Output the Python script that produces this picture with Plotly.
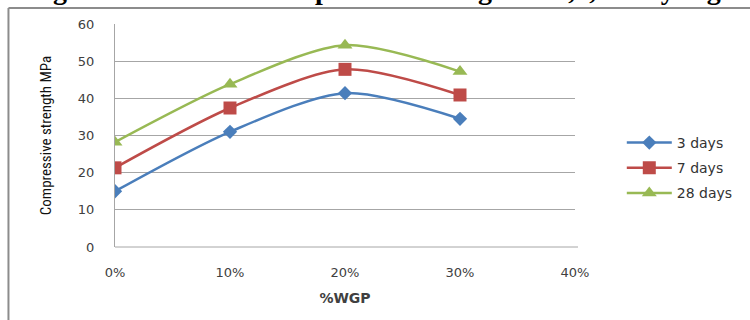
import plotly.graph_objects as go

wgp = [0.0, 0.1, 0.2, 0.3]
tick_vals = [0.0, 0.1, 0.2, 0.3, 0.4]
tick_text = ["0%", "10%", "20%", "30%", "40%"]
days3 = [15.0, 31.0, 41.4, 34.5]
days7 = [21.3, 37.4, 47.8, 40.9]
days28 = [28.2, 43.8, 54.3, 47.2]
series_names = ["3 days", "7 days", "28 days"]
title_text = "Fig.5.2 Variation of compressive strength at 3,7,28 days age"

colors = ["#4A7EBB", "#BE4B48", "#98B954"]
symbols = ["diamond", "square", "triangle-up"]
sizes = [11, 13, 13]

fig = go.Figure()
for name, vals, c, s, sz in zip(series_names, [days3, days7, days28], colors, symbols, sizes):
    fig.add_trace(go.Scatter(
        x=wgp, y=vals, name=name, mode="lines+markers", legendgroup=name,
        line=dict(color=c, width=2.5, shape="spline", smoothing=0.8),
        marker=dict(symbol=s, size=sz, color=c),
    ))

L, R, T, B = 115, 577, 24, 247
W, H = 750, 320
pw, ph = R - L, B - T

def px(x):
    return (x - L) / pw

def py(y):
    return (B - y) / ph

fig.update_layout(
    width=W, height=H,
    margin=dict(l=L, r=W - R, t=T, b=H - B),
    paper_bgcolor="white", plot_bgcolor="white",
    font=dict(family="DejaVu Sans", size=13, color="#404040"),
    showlegend=True,
    legend=dict(
        x=px(624), y=py(127), xanchor="left", yanchor="top",
        font=dict(size=14, color="#333333"),
        bgcolor="rgba(0,0,0,0)", tracegroupgap=4, itemwidth=45,
    ),
    xaxis=dict(
        range=[0, 0.4], tickvals=tick_vals, ticktext=tick_text,
        showgrid=False, zeroline=False, showline=False, automargin=False,
        ticks="", ticklabelstandoff=16, tickfont=dict(size=13, color="#404040"),
        title=dict(text="<b>%WGP</b>", font=dict(size=14, color="#404040"), standoff=14),
        fixedrange=True,
    ),
    yaxis=dict(
        range=[0, 60], dtick=10, showgrid=True, gridcolor="#A6A6A6", gridwidth=1,
        zeroline=False, showline=True, linecolor="#A6A6A6", linewidth=1, automargin=False,
        ticks="", ticklabelstandoff=17, tickfont=dict(size=13, color="#404040"),
        title=dict(text="Compressive strength MPa",
                   font=dict(family="Liberation Sans Narrow, Roboto Condensed, Roboto", size=15, color="#111111"),
                   standoff=22),
        fixedrange=True,
    ),
    shapes=[
        dict(type="line", xref="paper", yref="paper", x0=px(L), x1=px(580), y0=py(B), y1=py(B),
             line=dict(color="#A6A6A6", width=1), layer="below"),
        dict(type="line", xref="paper", yref="paper", x0=px(8), x1=px(760), y0=py(8), y1=py(8),
             line=dict(color="#8C8C8C", width=2)),
        dict(type="line", xref="paper", yref="paper", x0=px(8), x1=px(8), y0=py(8), y1=py(330),
             line=dict(color="#8C8C8C", width=2)),
    ],
    annotations=[
        dict(text="<b>" + title_text + "</b>", xref="paper", yref="paper",
             x=px(382), y=py(7), xanchor="center", yanchor="bottom", showarrow=False,
             font=dict(family="Liberation Serif, Times New Roman", size=28, color="black")),
    ],
)

fig.write_html(
    "out.html",
    config={"displayModeBar": False},
    post_script="document.body.style.margin='0';document.body.style.overflow='hidden';",
)
